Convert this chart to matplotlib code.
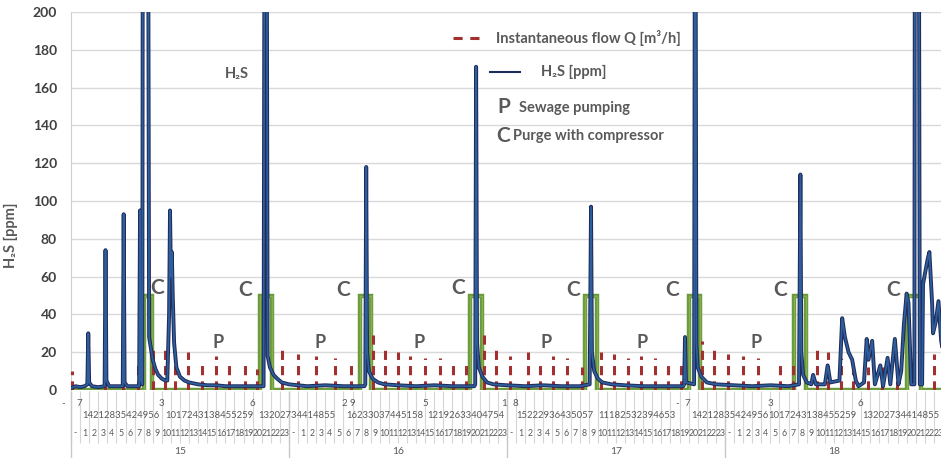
import matplotlib
matplotlib.use("Agg")
import matplotlib.pyplot as plt
import matplotlib.transforms as mtransforms
import numpy as np

plt.rcParams['font.family'] = ['Lato', 'DejaVu Sans']

# --- data (time in hours from 00:00 of day 15) ---
h2s_t = [0, 0.5, 1.0, 1.5, 1.8, 1.9, 2.0, 2.3, 3.0, 3.7, 3.8, 3.9, 4.2, 5.0,
         5.7, 5.8, 5.9, 6.2, 7.0, 7.5, 7.6, 7.7, 7.85, 7.9, 8.5, 8.6, 8.8,
         9.0, 9.3, 9.6, 10.0, 10.4, 10.6, 10.8, 10.9, 11.0, 11.1, 11.2, 11.35,
         11.6, 12.0, 12.5, 13.0, 14.0, 15.0, 16.0, 17.0, 18.0, 19.0, 20.0,
         20.8, 21.2, 21.3, 21.55, 21.65, 21.9, 22.3, 22.7, 23.2, 24.0,
         26, 28, 30, 32.3, 32.4, 32.5, 32.6, 32.8, 33.2, 33.8, 34.5, 36, 38,
         40, 42, 44.4, 44.5, 44.6, 44.7, 44.9, 45.3, 45.8, 46.5, 48, 50, 52,
         54, 56, 57.1, 57.25, 57.35, 57.6, 58.0, 58.5, 59.5, 61, 63, 65, 67.4,
         67.5, 67.6, 67.7, 68.6, 68.68, 68.76, 68.85, 69.0, 69.4, 70, 71, 73,
         75, 77, 79, 80.15, 80.3, 80.4, 80.6, 81, 81.5, 81.7, 82, 83, 83.3,
         83.6, 84.6, 84.9, 85.2, 85.6, 86.0, 86.4, 86.7, 87.3, 87.6, 87.8,
         88.2, 88.5, 89.1, 89.4, 89.9, 90.2, 90.7, 91.1, 91.4, 91.7, 92.0,
         92.2, 92.5, 92.85, 92.9, 93.35, 93.45, 93.7, 93.8, 94.3, 94.5, 94.8,
         94.9, 95.2, 95.5, 95.8, 96]
h2s_v = [1, 2, 1.5, 2, 3, 30, 4, 2, 1.5, 2, 74, 5, 2, 2,
         2, 93, 4, 2, 2, 2, 95, 5, 3, 250, 250, 28, 22,
         16, 11, 8, 6, 5, 5, 40, 95, 60, 73, 50, 25,
         12, 7, 5, 4, 3, 2.5, 2.5, 2, 2, 2, 2,
         2, 2, 250, 250, 18, 12, 8, 6, 4, 3,
         2, 2.5, 2, 2, 3, 118, 20, 10, 6, 4, 3, 2.5, 2,
         2.5, 2, 2, 3, 171, 25, 12, 7, 4, 3, 2.5, 2, 2.5,
         2, 2, 3, 97, 20, 10, 6, 4, 3, 2.5, 2, 2, 2,
         3, 28, 4, 3, 250, 250, 25, 12, 7, 4, 3, 2.5,
         2, 2.5, 2, 3, 114, 20, 8, 4, 3, 8, 3, 3, 13,
         4, 5, 38, 28, 20, 16, 5, 2, 4, 27, 16,
         26, 3, 13, 2, 17, 3, 27, 3, 10, 35, 51,
         46, 3, 3, 250, 250, 3, 3, 56, 69, 73, 46,
         30, 36, 47, 26, 20]

flow_t = [0.11, 3.74, 5.73, 7.38, 9.03, 10.35, 11.45, 12.89, 14.43, 15.97,
          17.40, 19.16, 20.48, 23.24, 25.00, 26.98, 29.07, 30.84, 33.26, 34.58,
          36.01, 37.33, 38.99, 40.64, 42.07, 43.50, 45.48, 46.81, 48.35, 50.33,
          51.65, 53.08, 54.63, 56.28, 58.37, 59.80, 61.34, 62.78, 64.32, 65.75,
          67.18, 69.49, 70.81, 72.36, 74.01, 75.66, 78.08, 79.52, 82.16, 83.37,
          84.80, 86.12, 87.78, 89.32, 90.97, 95.04]
flow_v = [10, 12, 16, 13, 24, 23, 18, 20, 16, 18,
          13, 14, 11, 22, 19, 18, 17, 16, 29, 21,
          20, 18, 17, 17, 16, 16, 29, 23, 18, 20,
          16, 18, 17, 12, 20, 19, 17, 18, 17, 16,
          15, 26, 21, 19, 18, 17, 15, 13, 23, 20,
          17, 14, 12, 12, 10, 19]

purge_start = [8.0, 20.8, 31.8, 43.9, 56.6, 68.0, 79.6, 92.0]
purge_end = [8.9, 22.1, 33.0, 45.3, 57.9, 69.3, 80.9, 93.6]
purge_level = 50

days = ["15", "16", "17", "18"]
hour_labels = ["-"] + [str(h) for h in range(1, 24)]

# minute sub-labels as Excel squeezed them: (hour position, text)
minute_row1 = [(0.9, "7"), (10.0, "3"), (20.0, "6"), (30.1, "2"), (31.0, "9"),
               (39.0, "5"), (47.7, "1"), (48.9, "8"), (66.7, "-"), (67.8, "7"),
               (77.0, "3"), (86.9, "6")]
minute_row2 = [(5.5, "14212835424956"), (15.2, "1017243138455259"),
               (24.9, "13202734414855"), (34.6, "16233037445158"),
               (43.5, "12192633404754"), (53.3, "15222936435057"),
               (62.3, "11182532394653"), (72.5, "14212835424956"),
               (81.6, "1017243138455259"), (91.4, "13202734414855")]

c_marks = [(9.5, 54), (19.2, 53), (30.0, 53), (42.6, 54), (55.3, 53),
           (66.2, 53), (78.1, 53), (90.5, 53)]
p_marks = [(16.2, 25), (27.4, 25), (38.3, 25), (52.3, 25), (62.9, 25), (75.4, 25)]

# --- figure ---
W, H = 941, 458
fig = plt.figure(figsize=(W / 100, H / 100), dpi=100)
ax = fig.add_axes([71 / W, 68 / H, 872 / W, 378 / H])

def fxy(x, y):
    return x / W, 1 - y / H

gray = "#595959"
navy = "#1f2b5a"
blue = "#2e5e9c"
red = "#a33030"
green = "#6b9a3a"

# purge with compressor (step signal)
pt, pv = [0], [0]
for s, e in zip(purge_start, purge_end):
    pt += [s, s, e, e]
    pv += [0, purge_level, purge_level, 0]
pt.append(96)
pv.append(0)
ax.plot(pt, pv, color=green, lw=3.2, solid_joinstyle="miter", zorder=2)
ax.plot(pt, pv, color="#86b04f", lw=1.0, zorder=2.1)

# instantaneous flow
ax.vlines(flow_t, 0, flow_v, colors=red, linestyles=(0, (3, 2)), lw=2.2, zorder=3)

# H2S
ax.plot(h2s_t, h2s_v, color=navy, lw=2.8, zorder=4)
ax.plot(h2s_t, h2s_v, color=blue, lw=1.3, zorder=4.1)

ax.set_xlim(0, 96)
ax.set_ylim(0, 200)
ax.set_yticks(np.arange(0, 201, 20))
ax.tick_params(axis="y", length=0, pad=10, labelsize=10, labelcolor="#404040")
for lab in ax.get_yticklabels():
    lab.set_fontweight("bold")
ax.set_xticks([])
ax.grid(axis="y", color="#d9d9d9", lw=1)
ax.set_axisbelow(True)
for sp in ["top", "right", "bottom"]:
    ax.spines[sp].set_visible(False)
ax.spines["left"].set_color("#d0d0d0")

ax.set_ylabel("H₂S [ppm]", fontsize=10.5, fontweight="bold", color=gray)
ax.yaxis.set_label_coords(-0.061, 0.41)

# x-axis multi-level category labels
trans = mtransforms.blended_transform_factory(ax.transData, ax.transAxes)
def ay(ypix):
    return (390 - ypix) / 378

hour_edges = np.arange(0, 97)
ax.vlines(hour_edges, ay(443), ay(391), colors="#d6d6d6", lw=0.8,
          transform=trans, clip_on=False)
ax.vlines([0, 24, 48, 72], ay(458), ay(391), colors="#c8c8c8", lw=1.0,
          transform=trans, clip_on=False)
for d in range(4):
    for h, lab in enumerate(hour_labels):
        ax.text(d * 24 + h + 0.5, ay(433), lab, transform=trans, ha="center",
                va="center", fontsize=6.3, color=gray, clip_on=False)
    ax.text(d * 24 + 12, ay(452), days[d], transform=trans, ha="center",
            va="center", fontsize=7.5, color=gray, clip_on=False)
ax.text(-0.9, ay(404), "-", transform=trans, ha="center", va="center",
        fontsize=7, color=gray, clip_on=False)
for x, lab in minute_row1:
    ax.text(x, ay(404), lab, transform=trans, ha="center", va="center",
            fontsize=7, color=gray, clip_on=False)
for x, lab in minute_row2:
    ax.text(x, ay(416), lab, transform=trans, ha="center", va="center",
            fontsize=6.8, color=gray, clip_on=False)

# annotations
for x, y in c_marks:
    ax.text(x, y, "C", ha="center", va="center", fontsize=15,
            fontweight="bold", color=gray, zorder=5)
for x, y in p_marks:
    ax.text(x, y, "P", ha="center", va="center", fontsize=13,
            fontweight="bold", color=gray, zorder=5)
ax.text(18.3, 167, "H₂S", ha="center", va="center", fontsize=10.5,
        fontweight="bold", color=gray)

# legend-like block
x0, y0 = fxy(453, 38)
x1, _ = fxy(483, 38)
fig.add_artist(plt.Line2D([x0, x1], [y0, y0], color=red, lw=2.2,
                          linestyle=(0, (3, 2.5)), transform=fig.transFigure))
fig.text(*fxy(496, 38), "Instantaneous flow Q [m³/h]", fontsize=10.5,
         fontweight="bold", color=gray, va="center")
x0, y0 = fxy(490, 72)
x1, _ = fxy(520, 72)
fig.add_artist(plt.Line2D([x0, x1], [y0, y0], color=navy, lw=1.5,
                          transform=fig.transFigure))
fig.text(*fxy(541, 72), "H₂S [ppm]", fontsize=10.5, fontweight="bold",
         color=gray, va="center")
fig.text(*fxy(497, 107), "P", fontsize=15, fontweight="bold", color=gray, va="center")
fig.text(*fxy(519, 108), "Sewage pumping", fontsize=10.5, fontweight="bold",
         color=gray, va="center")
fig.text(*fxy(496, 136), "C", fontsize=15, fontweight="bold", color=gray, va="center")
fig.text(*fxy(513, 136), "Purge with compressor", fontsize=10.5,
         fontweight="bold", color=gray, va="center")

fig.savefig("out.png", dpi=100)
